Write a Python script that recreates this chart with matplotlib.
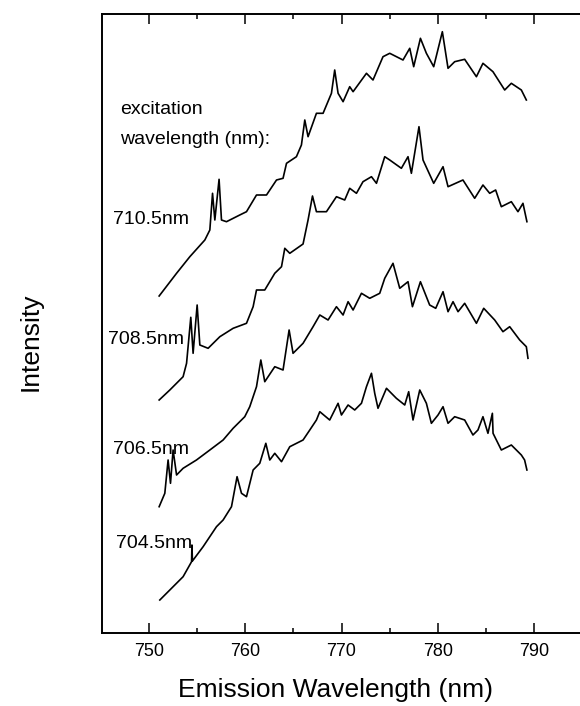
import matplotlib
matplotlib.use("Agg")
import matplotlib.pyplot as plt
from matplotlib.ticker import MultipleLocator

plt.rcParams['font.family'] = ['Liberation Sans', 'DejaVu Sans']

# ---------------- data (arbitrary intensity units) ----------------
# excitation 710.5 nm
wl_710 = [751.04, 752.85, 754.23, 755.79, 756.31, 756.59, 756.83, 757.27, 757.52, 758.04,
          759.42, 760.12, 761.16, 762.20, 763.24, 763.92, 764.28, 765.31, 765.83, 766.18,
          766.52, 767.39, 768.08, 768.95, 769.29, 769.64, 770.16, 770.85, 771.20, 772.59,
          773.27, 774.31, 775.01, 776.39, 777.09, 777.50, 778.20, 778.82, 779.58, 780.48,
          781.07, 781.76, 782.80, 784.02, 784.70, 785.74, 786.96, 787.65, 788.69, 789.21]
int_710 = [337, 359.7, 376.3, 393, 403, 439.7, 413, 453.7, 413, 411.3,
           418, 421.3, 438, 438, 453, 454.7, 469.7, 476.3, 488, 513,
           496.3, 519.7, 519.7, 539.7, 563, 539.7, 531.3, 546.3, 541.3, 559.7,
           553, 576.3, 579.7, 573, 584.7, 566.3, 594.7, 579.7, 566.3, 601.3,
           564.7, 571.3, 573.7, 556.3, 569.7, 561.3, 543, 549.7, 543, 533]

# excitation 708.5 nm
wl_708 = [751.04, 752.15, 753.53, 753.89, 754.33, 754.57, 754.99, 755.27, 756.13, 757.35,
          758.73, 760.12, 760.81, 761.16, 762.02, 763.06, 763.76, 764.10, 764.62, 766.00,
          766.52, 766.98, 767.39, 768.43, 769.47, 770.33, 770.85, 771.55, 772.23, 773.11,
          773.63, 774.49, 775.01, 776.22, 776.91, 777.26, 778.05, 778.47, 779.58, 780.55,
          781.07, 782.62, 783.84, 784.70, 785.40, 786.02, 786.61, 787.65, 788.34, 788.86,
          789.27]
int_708 = [233, 243, 256.3, 269.7, 315.7, 279.7, 328, 288, 284.7, 296.3,
           304.7, 309.7, 326.3, 343, 343, 359.7, 366.3, 384.7, 379.7, 389,
           413, 437, 421.3, 421.3, 436.3, 433, 444.7, 439.7, 451.3, 456.3,
           449.7, 476.3, 473, 464.7, 476.3, 459.7, 506.3, 473, 449.7, 466.3,
           446.3, 453, 434.7, 448, 439.7, 443, 426.3, 431.3, 421.3, 429.7,
           411.3]

# excitation 706.5 nm
wl_706 = [751.04, 751.63, 751.97, 752.22, 752.49, 752.85, 753.53, 754.92, 756.31, 757.69,
          758.73, 759.94, 760.46, 761.16, 761.61, 762.02, 763.06, 763.92, 764.55, 764.96,
          766.00, 767.04, 767.74, 768.60, 769.47, 770.16, 770.68, 771.20, 772.07, 772.93,
          773.97, 774.49, 775.35, 776.05, 776.91, 777.37, 778.20, 779.16, 779.79, 780.55,
          781.07, 781.59, 782.11, 782.80, 784.02, 784.78, 785.92, 786.78, 787.48, 788.52,
          789.21, 789.38]
int_706 = [126.3, 139.7, 173, 149.7, 183, 158, 164.7, 173, 183, 193,
           204.7, 216.3, 226.3, 246.3, 273, 251.3, 266.3, 263, 303, 279.7,
           289.7, 306.3, 318, 313, 326.3, 318, 331.3, 323, 339.7, 334.7,
           339.7, 354.7, 369.7, 344.7, 351.3, 326.3, 351.3, 328, 324.7, 341.3,
           321.3, 331.3, 321.3, 329.7, 309.7, 324.7, 313, 301.3, 306.3, 293,
           286.3, 274.7]

# excitation 704.5 nm
wl_704 = [751.11, 752.15, 753.53, 754.41, 754.45, 754.50, 755.61, 757.00, 757.69, 758.56,
          759.14, 759.60, 760.12, 760.81, 761.50, 762.13, 762.54, 763.06, 763.76, 764.62,
          766.00, 766.70, 767.39, 767.74, 768.77, 769.64, 769.99, 770.68, 771.37, 772.07,
          772.59, 773.11, 773.45, 773.79, 774.67, 775.70, 776.57, 776.98, 777.43, 778.13,
          778.82, 779.34, 780.03, 780.55, 781.07, 781.76, 782.80, 783.66, 784.18, 784.70,
          785.22, 785.68, 785.75, 786.61, 787.65, 788.69, 789.03, 789.27]
int_704 = [33, 43, 56.3, 71.3, 88, 72, 86.3, 106.3, 113, 126.3,
           156.3, 139.7, 136.3, 163, 169.7, 189.7, 173, 179.7, 171.3, 186.3,
           193, 203, 213, 221.3, 213, 229.7, 218, 228, 223, 229.7,
           246.3, 259.7, 239.7, 224.7, 244.7, 234.7, 228, 241.3, 213, 243,
           229.7, 209.7, 218, 226.3, 209.7, 216.3, 213, 198, 203, 216.3,
           199.7, 219.7, 199.7, 183, 188, 178, 173, 163]

series = [(wl_710, int_710), (wl_708, int_708), (wl_706, int_706), (wl_704, int_704)]

exc_labels = ['710.5nm', '708.5nm', '706.5nm', '704.5nm']
exc_label_x = [746.23, 745.71, 746.23, 746.54]
exc_label_y = [413, 294, 184, 90]

# ---------------- plot ----------------
fig = plt.figure(figsize=(5.8, 7.06), dpi=100)
ax = fig.add_axes([102 / 580, 73 / 706, 481 / 580, 619 / 706])

for wl, inten in series:
    ax.plot(wl, inten, color='black', lw=1.2)

ax.set_xlim(745.1, 795.1)
ax.set_ylim(0, 619)

ax.text(747.0, 523, 'excitation', fontsize=14, va='center', ha='left')
ax.text(747.0, 494, 'wavelength (nm):', fontsize=14, va='center', ha='left')
for lab, lx, ly in zip(exc_labels, exc_label_x, exc_label_y):
    ax.text(lx, ly, lab, fontsize=14, va='center', ha='left')

ax.spines['right'].set_visible(False)
for s in ['left', 'bottom', 'top']:
    ax.spines[s].set_linewidth(1.4)

ax.xaxis.set_major_locator(MultipleLocator(10))
ax.xaxis.set_minor_locator(MultipleLocator(5))
ax.tick_params(axis='x', which='both', direction='in', top=True, width=1.1, labelsize=13, pad=7)
ax.tick_params(axis='x', which='major', length=7)
ax.tick_params(axis='x', which='minor', length=3.5)
ax.set_yticks([])

fig.text(335 / 580, 1 - 690 / 706, 'Emission Wavelength (nm)', fontsize=19, ha='center', va='center')
fig.text(31 / 580, 1 - 342 / 706, 'Intensity', fontsize=19, rotation=90, ha='center', va='center')

fig.savefig('out.png', dpi=100)
